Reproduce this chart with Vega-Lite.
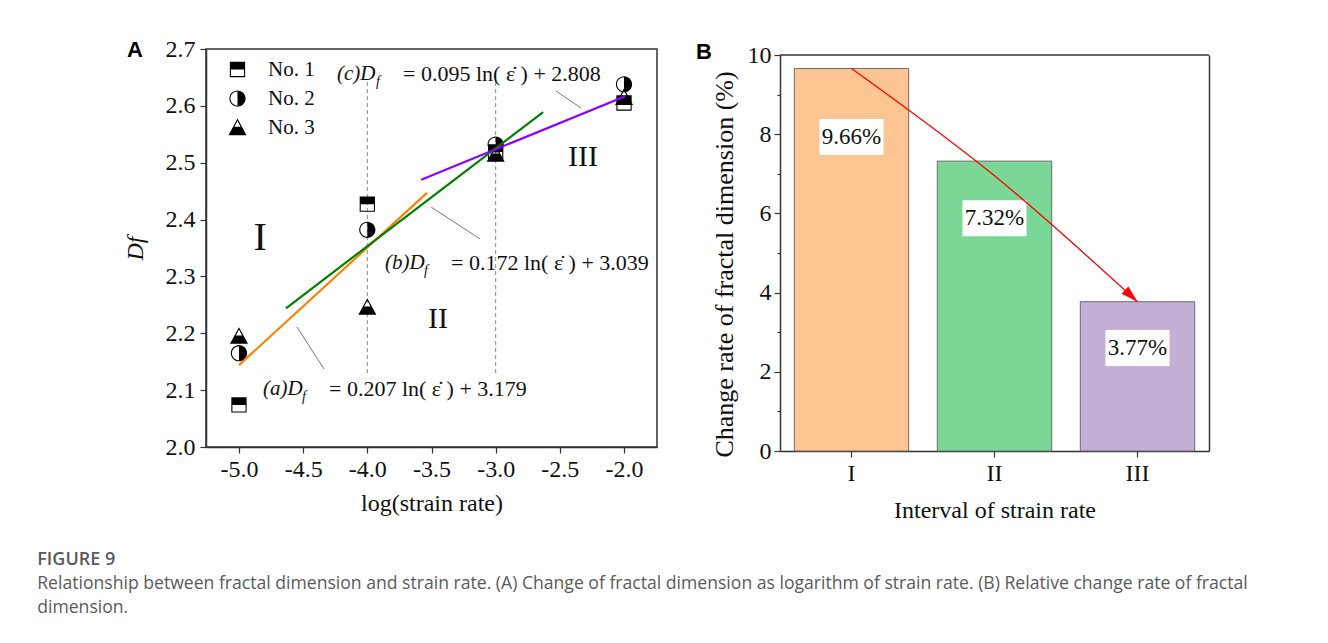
{
  "$schema": "https://vega.github.io/schema/vega-lite/v6.json",
  "background": "white",
  "padding": {"left": 37, "top": 36, "right": 5, "bottom": 5},
  "bounds": "full",
  "spacing": 38,
  "resolve": {"scale": {"color": "independent", "shape": "independent"}},
  "title": {
    "text": "FIGURE 9",
    "subtitle": ["Relationship between fractal dimension and strain rate. (A) Change of fractal dimension as logarithm of strain rate. (B) Relative change rate of fractal", "dimension."],
    "orient": "bottom",
    "anchor": "start",
    "frame": "bounds",
    "dx": -85,
    "offset": 29,
    "font": "Open Sans",
    "fontSize": 18,
    "fontWeight": 600,
    "color": "#5a5a5a",
    "subtitleFont": "Open Sans",
    "subtitleFontSize": 17.6,
    "subtitleColor": "#5a5a5a",
    "subtitleLineHeight": 24,
    "subtitlePadding": 6
  },
  "config": {
    "font": "Liberation Serif",
    "view": {"stroke": "#333333", "strokeWidth": 1.5},
    "axis": {
      "labelFont": "Liberation Serif",
      "titleFont": "Liberation Serif",
      "labelColor": "#111111",
      "titleColor": "#111111",
      "domainColor": "#333333",
      "tickColor": "#333333",
      "domainWidth": 1.5,
      "tickWidth": 1.2,
      "grid": false,
      "labelFontSize": 24,
      "titleFontSize": 24,
      "titleFontWeight": "normal",
      "labelOverlap": false,
      "labelFlush": false
    }
  },
  "datasets": {
    "points": [
      {"sample": "No. 1", "lograte": -5, "df": 2.074},
      {"sample": "No. 1", "lograte": -4, "df": 2.427},
      {"sample": "No. 1", "lograte": -3, "df": 2.519},
      {"sample": "No. 1", "lograte": -2, "df": 2.605},
      {"sample": "No. 2", "lograte": -5, "df": 2.165},
      {"sample": "No. 2", "lograte": -4, "df": 2.382},
      {"sample": "No. 2", "lograte": -3, "df": 2.532},
      {"sample": "No. 2", "lograte": -2, "df": 2.638},
      {"sample": "No. 3", "lograte": -5, "df": 2.195},
      {"sample": "No. 3", "lograte": -4, "df": 2.246},
      {"sample": "No. 3", "lograte": -3, "df": 2.515},
      {"sample": "No. 3", "lograte": -2, "df": 2.615}
    ],
    "fits": [
      {"fit": "a", "lograte": -5, "df": 2.144},
      {"fit": "a", "lograte": -3.535, "df": 2.447},
      {"fit": "b", "lograte": -4.634, "df": 2.244},
      {"fit": "b", "lograte": -2.63, "df": 2.589},
      {"fit": "c", "lograte": -3.58, "df": 2.47},
      {"fit": "c", "lograte": -1.99, "df": 2.617}
    ],
    "guides": [
      {"lograte": -4, "df": 2.13, "df2": 2.645},
      {"lograte": -3, "df": 2.13, "df2": 2.645}
    ],
    "leaders": [
      {"lograte": -4.548, "df": 2.211, "lograte2": -4.337, "df2": 2.137},
      {"lograte": -3.503, "df": 2.422, "lograte2": -3.122, "df2": 2.366},
      {"lograte": -2.529, "df": 2.626, "lograte2": -2.334, "df2": 2.596}
    ],
    "eqs": [
      {"id": "a", "lograte": -4.813, "df": 2.102, "pre": "(a)D", "post": "= 0.207 ln( ε̇ ) + 3.179"},
      {"id": "b", "lograte": -3.862, "df": 2.324, "pre": "(b)D", "post": "= 0.172 ln( ε̇ ) + 3.039"},
      {"id": "c", "lograte": -4.236, "df": 2.656, "pre": "(c)D", "post": "= 0.095 ln( ε̇ ) + 2.808"}
    ],
    "regions": [
      {"t": "I", "lograte": -4.836, "df": 2.368},
      {"t": "II", "lograte": -3.449, "df": 2.225},
      {"t": "III", "lograte": -2.319, "df": 2.51}
    ],
    "bars": [
      {"interval": "I", "rate": 9.66, "label": "9.66%", "labelPos": 7.93},
      {"interval": "II", "rate": 7.32, "label": "7.32%", "labelPos": 5.88},
      {"interval": "III", "rate": 3.77, "label": "3.77%", "labelPos": 2.6}
    ],
    "arrow": [
      {"interval": "I", "v": 9.66},
      {"interval": "II", "v": 6.95},
      {"interval": "III", "v": 3.77}
    ]
  },
  "hconcat": [
    {
      "width": 451,
      "height": 398,
      "title": {"text": "A", "anchor": "start", "frame": "group", "font": "Liberation Sans", "fontWeight": "bold", "fontSize": 22, "color": "#000000", "baseline": "alphabetic", "offset": -25, "dx": -79, "dy": 17},
      "layer": [
        {
          "data": {"name": "guides"},
          "mark": {"type": "rule", "color": "#888888", "strokeWidth": 1, "strokeDash": [4, 3]},
          "encoding": {
            "x": {"field": "lograte", "type": "quantitative", "scale": {"domain": [-5.257, -1.743], "nice": false, "zero": false},
              "axis": {"title": "log(strain rate)", "values": [-5, -4.75, -4.5, -4.25, -4, -3.75, -3.5, -3.25, -3, -2.75, -2.5, -2.25, -2],
                "labelExpr": "abs(round(datum.value*4)) % 2 == 0 ? replace(format(datum.value, '.1f'), '−', '-') : ''",
                "tickSize": {"condition": {"test": "abs(round(datum.value*4)) % 2 == 0", "value": 6}, "value": 3},
                "labelPadding": 4, "titlePadding": 10}},
            "y": {"field": "df", "type": "quantitative", "scale": {"domain": [2.0, 2.7], "nice": false, "zero": false},
              "axis": {"title": "Df", "titleFontStyle": "italic", "titlePadding": 18,
                "values": [2.0, 2.05, 2.1, 2.15, 2.2, 2.25, 2.3, 2.35, 2.4, 2.45, 2.5, 2.55, 2.6, 2.65, 2.7],
                "labelExpr": "abs(round(datum.value*20)) % 2 == 0 ? format(datum.value, '.1f') : ''",
                "tickSize": {"condition": {"test": "abs(round(datum.value*20)) % 2 == 0", "value": 6}, "value": 3},
                "labelPadding": 5}},
            "y2": {"field": "df2"}
          }
        },
        {
          "data": {"name": "leaders"},
          "mark": {"type": "rule", "color": "#555555", "strokeWidth": 0.8},
          "encoding": {
            "x": {"field": "lograte", "type": "quantitative"},
            "y": {"field": "df", "type": "quantitative"},
            "x2": {"field": "lograte2"},
            "y2": {"field": "df2"}
          }
        },
        {
          "data": {"name": "points"},
          "mark": {"type": "point", "filled": true, "fill": "#000000", "strokeWidth": 0, "size": 324, "opacity": 1},
          "encoding": {
            "x": {"field": "lograte", "type": "quantitative"},
            "y": {"field": "df", "type": "quantitative"},
            "shape": {"field": "sample", "type": "nominal",
              "scale": {"domain": ["No. 1", "No. 2", "No. 3"],
                "range": [
                  "M-0.85,-0.85H0.85V0.85H-0.85Z M-0.73,0V0.73H0.73V0Z",
                  "M0,-0.9A0.9,0.9 0 1 1 0,0.9A0.9,0.9 0 1 1 0,-0.9Z M0,-0.78A0.78,0.78 0 0 0 0,0.78Z",
                  "M0,-1L1,0.85H-1Z M0,-0.73L-0.352,-0.075H0.352Z"
                ]},
              "legend": {"title": null, "orient": "none", "legendX": 21, "legendY": 10, "padding": 0,
                "labelFont": "Liberation Serif", "labelFontSize": 21, "labelColor": "#111111", "labelOffset": 20,
                "symbolSize": 324, "symbolFillColor": "#000000", "symbolStrokeWidth": 0, "symbolOpacity": 1,
                "rowPadding": 7}}
          }
        },
        {
          "data": {"name": "fits"},
          "mark": {"type": "line", "strokeWidth": 2.2},
          "encoding": {
            "x": {"field": "lograte", "type": "quantitative"},
            "y": {"field": "df", "type": "quantitative"},
            "detail": {"field": "fit"},
            "color": {"field": "fit", "type": "nominal", "scale": {"domain": ["a", "b", "c"], "range": ["#ff8000", "#008000", "#8b00ff"]}, "legend": null}
          }
        },
        {
          "data": {"name": "eqs"},
          "mark": {"type": "text", "align": "left", "baseline": "middle", "fontSize": 21, "fontStyle": "italic", "color": "#111111"},
          "encoding": {
            "x": {"field": "lograte", "type": "quantitative"},
            "y": {"field": "df", "type": "quantitative"},
            "text": {"field": "pre"}
          }
        },
        {
          "data": {"name": "eqs"},
          "mark": {"type": "text", "align": "left", "baseline": "middle", "fontSize": 14, "fontStyle": "italic", "color": "#111111", "text": "f", "dx": 39, "dy": 8},
          "encoding": {
            "x": {"field": "lograte", "type": "quantitative"},
            "y": {"field": "df", "type": "quantitative"}
          }
        },
        {
          "data": {"name": "eqs"},
          "mark": {"type": "text", "align": "left", "baseline": "middle", "fontSize": 22, "color": "#111111", "dx": 66},
          "encoding": {
            "x": {"field": "lograte", "type": "quantitative"},
            "y": {"field": "df", "type": "quantitative"},
            "text": {"field": "post"}
          }
        },
        {
          "data": {"name": "regions"},
          "mark": {"type": "text", "align": "center", "baseline": "middle", "color": "#111111"},
          "encoding": {
            "x": {"field": "lograte", "type": "quantitative"},
            "y": {"field": "df", "type": "quantitative"},
            "text": {"field": "t"},
            "size": {"condition": {"test": "datum.t === 'I'", "value": 40}, "value": 30}
          }
        }
      ]
    },
    {
      "width": 429,
      "height": 402,
      "view": {"stroke": null},
      "title": {"text": "B", "anchor": "start", "frame": "group", "font": "Liberation Sans", "fontWeight": "bold", "fontSize": 22, "color": "#000000", "baseline": "alphabetic", "offset": -25, "dx": -84, "dy": 13},
      "resolve": {"axis": {"y": "independent"}},
      "layer": [
        {
          "data": {"name": "bars"},
          "mark": {"type": "bar", "stroke": "#6b6b6b", "strokeWidth": 1},
          "encoding": {
            "x": {"field": "interval", "type": "ordinal", "scale": {"domain": ["I", "II", "III"], "paddingInner": 0.2, "paddingOuter": 0.1},
              "axis": {"title": "Interval of strain rate", "labelAngle": 0, "tickSize": 6, "labelPadding": 4, "titlePadding": 13}},
            "y": {"field": "rate", "type": "quantitative", "scale": {"domain": [0, 10], "nice": false, "range": [402, 6]},
              "axis": {"title": "Change rate of fractal dimension (%)", "titleFontSize": 26, "titlePadding": 10, "titleY": 215,
                "values": [0, 1, 2, 3, 4, 5, 6, 7, 8, 9, 10],
                "labelExpr": "datum.value % 2 == 0 ? datum.value : ''",
                "tickSize": {"condition": {"test": "datum.value % 2 == 0", "value": 6}, "value": 3},
                "labelPadding": 3}},
            "color": {"field": "interval", "type": "nominal", "scale": {"domain": ["I", "II", "III"], "range": ["#fdc591", "#7ad796", "#c5b0d5"]}, "legend": null}
          }
        },
        {
          "data": {"values": [{}]},
          "mark": {"type": "rule", "color": "#333333", "strokeWidth": 1.5},
          "encoding": {
            "y": {"datum": 10, "type": "quantitative",
              "axis": {"orient": "right", "title": null, "labels": false, "ticks": false, "domain": true, "domainColor": "#333333", "domainWidth": 1.5}}
          }
        },
        {
          "data": {"name": "bars"},
          "mark": {"type": "point", "shape": "M-1.78,-1H1.78V1H-1.78Z", "size": 1296, "filled": true, "fill": "#ffffff", "strokeWidth": 0, "opacity": 1},
          "encoding": {
            "x": {"field": "interval", "type": "ordinal"},
            "y": {"field": "labelPos", "type": "quantitative", "axis": null}
          }
        },
        {
          "data": {"name": "bars"},
          "mark": {"type": "text", "fontSize": 23, "color": "#111111", "baseline": "middle"},
          "encoding": {
            "x": {"field": "interval", "type": "ordinal"},
            "y": {"field": "labelPos", "type": "quantitative", "axis": null},
            "text": {"field": "label"}
          }
        },
        {
          "data": {"name": "arrow"},
          "mark": {"type": "line", "color": "#ff0000", "strokeWidth": 1.3, "interpolate": "monotone"},
          "encoding": {
            "x": {"field": "interval", "type": "ordinal"},
            "y": {"field": "v", "type": "quantitative", "axis": null}
          }
        },
        {
          "data": {"name": "arrow"},
          "transform": [{"filter": "datum.interval === 'III'"}],
          "mark": {"type": "point", "shape": "M0,0L-0.55,-1.9L0.55,-1.9Z", "size": 324, "filled": true, "fill": "#ff0000", "strokeWidth": 0, "opacity": 1, "angle": 313},
          "encoding": {
            "x": {"field": "interval", "type": "ordinal"},
            "y": {"field": "v", "type": "quantitative", "axis": null}
          }
        }
      ]
    }
  ]
}
